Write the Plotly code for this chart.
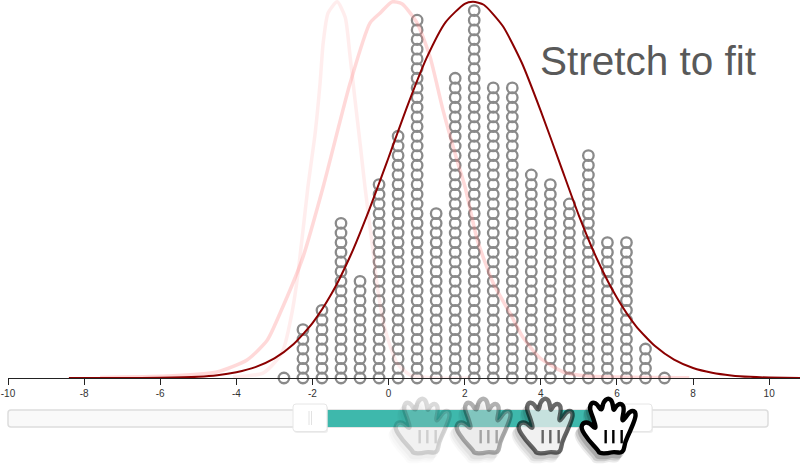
import plotly.graph_objects as go

# ---------- data ----------
bin_centers = [-2.75, -2.25, -1.75, -1.25, -0.75, -0.25, 0.25, 0.75, 1.25, 1.75, 2.25,
               2.75, 3.25, 3.75, 4.25, 4.75, 5.25, 5.75, 6.25, 6.75, 7.25]
bin_counts = [1, 6, 8, 17, 11, 21, 26, 38, 18, 32, 39, 31, 31, 22, 21, 19, 24, 15, 15, 4, 1]

final_x = [-8.4, -7, -6, -5, -4.5, -4, -3.5, -3, -2.5, -2, -1.5, -1, -0.5, 0, 0.5, 1, 1.5, 2, 2.22,
           2.5, 3, 3.5, 4, 4.5, 5, 5.5, 6, 6.5, 7, 7.5, 8, 8.5, 9, 9.5, 10, 10.81]
final_y = [0.0, 0.0, 0.03, 0.14, 0.29, 0.6, 1.13, 2.03, 3.49, 5.67, 8.7, 12.67, 17.5, 22.8, 28.2, 33.1,
           36.8, 38.7, 38.9, 38.6, 36.4, 32.6, 27.6, 22.2, 16.8, 12.1, 8.3, 5.37, 3.3, 1.9, 1.04, 0.55,
           0.27, 0.12, 0.05, 0.01]

mid_x = [-7.58, -5.82, -4.51, -3.72, -3.19, -2.85, -2.25, -1.72, -1.01, -0.49, -0.22, 0.09, 0.35, 0.75,
         1.09, 1.43, 1.8, 2.01, 2.33, 2.75, 3.19, 3.53, 3.98, 4.59, 5.22, 7.9]
mid_y = [0.05, 0.2, 0.62, 1.86, 3.9, 6.72, 12.5, 19.75, 30.5, 36.7, 37.75, 38.9, 38.7, 36.7,
         33.2, 27.7, 22.5, 19.75, 14.3, 9.8, 6.7, 4.2, 2.07, 0.62, 0.2, 0.02]

first_x = [-4.09, -3.3, -2.93, -2.77, -2.54, -2.38, -2.12, -1.93, -1.8, -1.72, -1.59, -1.35, -1.14, -1.01,
           -0.88, -0.75, -0.62, -0.43, -0.28, -0.09, 0.22, 0.57, 1.27, 2.14]
first_y = [0.1, 0.5, 1.9, 2.9, 6.7, 10.8, 19.75, 25.3, 30.5, 34.6, 37.75, 38.9, 37.3, 33.2,
           28.7, 24.3, 19.75, 13.8, 9.0, 5.0, 1.55, 0.3, 0.0, 0.0]

tick_values = [-10, -8, -6, -4, -2, 0, 2, 4, 6, 8, 10]
tick_labels = ["-10", "-8", "-6", "-4", "-2", "0", "2", "4", "6", "8", "10"]
title_text = "Stretch to fit"

# ---------- layout constants ----------
W, H = 800, 468
L, B = 8, 90
PW, PH = W - L, H - B


def px(x, y):
    return (x - L) / PW, (H - B - y) / PH


def rect(x0, y0, x1, y1, r=0, **kw):
    ax, ay = px(x0, y0)
    bx, by = px(x1, y1)
    if r == 0:
        d = f"M{ax},{ay} L{bx},{ay} L{bx},{by} L{ax},{by} Z"
    else:
        pts = [(x0 + r, y0), (x1 - r, y0), (x1, y0), (x1, y0 + r), (x1, y1 - r), (x1, y1),
               (x1 - r, y1), (x0 + r, y1), (x0, y1), (x0, y1 - r), (x0, y0 + r), (x0, y0)]
        p = [px(*q) for q in pts]
        d = f"M{p[0][0]},{p[0][1]} L{p[1][0]},{p[1][1]} Q{p[2][0]},{p[2][1]} {p[3][0]},{p[3][1]} " \
            f"L{p[4][0]},{p[4][1]} Q{p[5][0]},{p[5][1]} {p[6][0]},{p[6][1]} " \
            f"L{p[7][0]},{p[7][1]} Q{p[8][0]},{p[8][1]} {p[9][0]},{p[9][1]} " \
            f"L{p[10][0]},{p[10][1]} Q{p[11][0]},{p[11][1]} {p[0][0]},{p[0][1]} Z"
    return dict(type="path", xref="paper", yref="paper", path=d, **kw)


HAND = [(85, 197), (55, 165), (32, 130), (40, 112), (58, 113), (80, 135), (70, 100), (58, 70), (65, 52),
        (80, 55), (95, 80), (100, 50), (115, 38), (128, 50), (130, 80), (140, 60), (155, 55), (163, 70),
        (155, 110), (165, 100), (180, 78), (195, 78), (198, 95), (180, 140), (165, 170), (160, 205),
        (130, 200), (115, 205), (88, 205)]
BARS = [(107, 135, 175), (130, 135, 175), (155, 135, 175)]


def hand_path(dx, dy):
    pts = [px(570 + a / 3 + dx, 385 + b / 3 + dy) for a, b in HAND]
    n = len(pts)
    mid = lambda p, q: ((p[0] + q[0]) / 2, (p[1] + q[1]) / 2)
    s = mid(pts[-1], pts[0])
    d = f"M{s[0]},{s[1]} "
    for i in range(n):
        m = mid(pts[i], pts[(i + 1) % n])
        d += f"Q{pts[i][0]},{pts[i][1]} {m[0]},{m[1]} "
    return d + "Z"


def hand(dx, opacity):
    out = []
    for off, alpha in [((-5, 8), 0.08), ((-4, 6), 0.12), ((-2, 4), 0.16)]:
        out.append(dict(type="path", xref="paper", yref="paper", path=hand_path(dx + off[0], off[1]),
                        fillcolor="#000000", line=dict(width=4, color="#000000"), opacity=alpha * opacity))
    # white body first, so the shadow does not show through the palm of the faded hands
    out.append(dict(type="path", xref="paper", yref="paper", path=hand_path(dx, 0), fillcolor="#ffffff",
                    line=dict(width=0), opacity=min(1.0, opacity * 1.25)))
    out.append(dict(type="path", xref="paper", yref="paper", path=hand_path(dx, 0),
                    fillcolor="rgba(255,255,255,0)", line=dict(width=4.4, color="#000000"), opacity=opacity))
    for a, b0, b1 in BARS:
        x0, y0 = px(570 + a / 3 + dx, 385 + b0 / 3)
        x1, y1 = px(570 + a / 3 + dx, 385 + b1 / 3)
        out.append(dict(type="line", xref="paper", yref="paper", x0=x0, y0=y0, x1=x1, y1=y1,
                        line=dict(width=2.4, color="#000000"), opacity=opacity))
    return out


# ---------- traces ----------
dot_x, dot_y = [], []
for c, n in zip(bin_centers, bin_counts):
    for row in range(n):
        dot_x.append(c)
        dot_y.append(row)

fig = go.Figure()
fig.add_trace(go.Scatter(x=dot_x, y=dot_y, mode="markers", cliponaxis=False, hoverinfo="skip",
                         marker=dict(symbol="circle-open", size=10.5, color="#8a8a8a",
                                     line=dict(width=2.3, color="#8a8a8a"))))
fig.add_trace(go.Scatter(x=first_x, y=first_y, mode="lines", cliponaxis=False, hoverinfo="skip",
                         line=dict(color="rgba(255,130,130,0.14)", width=3.5, shape="spline", smoothing=0.6)))
fig.add_trace(go.Scatter(x=mid_x, y=mid_y, mode="lines", cliponaxis=False, hoverinfo="skip",
                         line=dict(color="rgba(255,130,130,0.3)", width=3.5, shape="spline", smoothing=0.6)))
fig.add_trace(go.Scatter(x=final_x, y=final_y, mode="lines", cliponaxis=False, hoverinfo="skip",
                         line=dict(color="#8b0000", width=2, shape="spline", smoothing=0.6)))

# ---------- slider and hands ----------
shapes = [
    rect(8, 410, 768, 427, r=3, fillcolor="#f9f9f9", line=dict(width=1.5, color="#dddddd")),
    rect(326, 410, 622, 427, fillcolor="#3eb8ac", line=dict(width=0)),
    rect(294, 406, 328, 433, r=3, fillcolor="#dddddd", line=dict(width=0), opacity=0.5),
    rect(293, 404, 327, 431.5, r=3, fillcolor="#ffffff", line=dict(width=1, color="#e6e6e6")),
    rect(619, 406, 653, 433, r=3, fillcolor="#dddddd", line=dict(width=0), opacity=0.5),
    rect(618, 404, 652, 431.5, r=3, fillcolor="#ffffff", line=dict(width=1, color="#e6e6e6")),
]
for gx in (309, 311.5):
    x0, y0 = px(gx, 411)
    x1, y1 = px(gx, 425)
    shapes.append(dict(type="line", xref="paper", yref="paper", x0=x0, y0=y0, x1=x1, y1=y1,
                       line=dict(width=1, color="#e2e2e2")))
for dx, op in [(-186, 0.14), (-125, 0.3), (-63, 0.58), (0, 1.0)]:
    shapes += hand(dx, op)

tx, ty = px(758, 61)
fig.update_layout(
    width=W, height=H, margin=dict(l=L, r=0, t=0, b=B), showlegend=False,
    paper_bgcolor="#ffffff", plot_bgcolor="#ffffff",
    xaxis=dict(range=[-10, 10.81], tickmode="array", tickvals=tick_values, ticktext=tick_labels,
               ticks="outside", ticklen=6, tickwidth=1, tickcolor="#222222",
               showline=True, linecolor="#222222", linewidth=1, showgrid=False, zeroline=False,
               tickfont=dict(family="Liberation Sans", size=10, color="#333333")),
    yaxis=dict(range=[0, 39.09], visible=False, showgrid=False, zeroline=False),
    shapes=shapes,
    annotations=[dict(text=title_text, xref="paper", yref="paper", x=tx, y=ty, xanchor="right",
                      yanchor="middle", showarrow=False,
                      font=dict(family="Liberation Sans", size=40.5, color="#595959"))],
)

fig.write_html("out.html", config=dict(displayModeBar=False),
               post_script="document.body.style.margin='0';document.body.style.overflow='hidden';")
